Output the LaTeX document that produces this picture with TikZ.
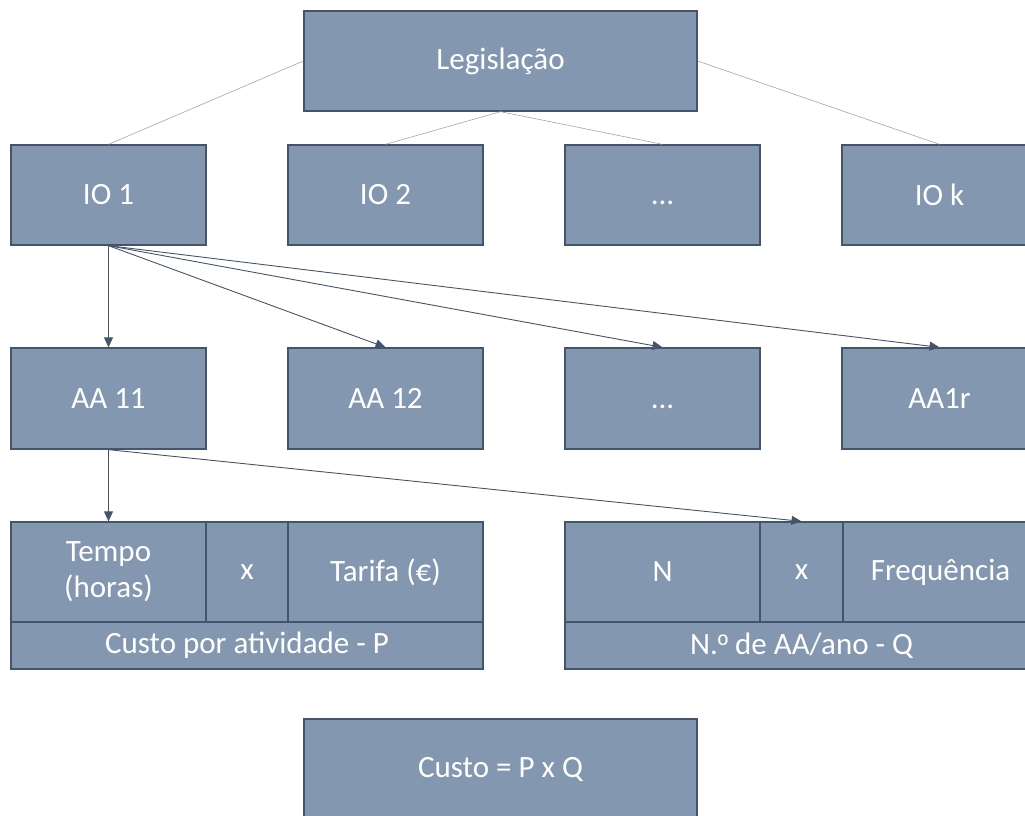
\documentclass[tikz,border=0pt]{standalone}
\usepackage{fontspec}
\setmainfont{Carlito}
\newfontfamily\ordfont{Liberation Sans}
\usetikzlibrary{arrows.meta}
\definecolor{boxfill}{HTML}{8497B0}
\definecolor{boxedge}{HTML}{44546A}
\definecolor{linkgray}{HTML}{A5A5A5}
\begin{document}
\begin{tikzpicture}[x=1pt,y=-1pt,
  cell/.style={draw=boxedge, fill=boxfill, line width=1.3pt, text=white,
    font=\fontsize{31}{36}\selectfont, inner sep=0pt, align=center},
  wide/.style={cell, minimum width=393, minimum height=100},
  unit/.style={cell, minimum width=195, minimum height=100},
  tree/.style={draw=linkgray, line width=0.6pt},
  link/.style={draw=boxedge, line width=0.9pt, -{Triangle[length=10pt,width=9pt]}}]
\useasboundingbox (0,0) rectangle (1025,816);
\begin{scope}
\clip (0,0) rectangle (1025,816);
% top level
\node[wide] (leg) at (500.5,61) {Legislação};
% information obligations
\node[unit] (io1) at (108.5,195) {IO 1};
\node[unit] (io2) at (385.5,195) {IO 2};
\node[unit] (iod) at (662.5,195) {\vphantom{IO}...};
\node[unit] (iok) at (939.5,195) {IO k};
% administrative activities
\node[unit, minimum height=101] (aa11) at (108.5,398.5) {AA 11};
\node[unit, minimum height=101] (aa12) at (385.5,398.5) {AA 12};
\node[unit, minimum height=101] (aad) at (662.5,398.5) {\vphantom{AA}...};
\node[unit, minimum height=101] (aar) at (939.5,398.5) {AA1r};
% price table
\node[unit] (tempo) at (108.5,572) {Tempo\\(horas)};
\node[cell, minimum width=82, minimum height=100] (px) at (247,572) {x};
\node[unit] (tarifa) at (385.5,572) {Tarifa (€)};
\node[cell, minimum width=472, minimum height=47] (pp) at (247,645.5) {Custo por atividade - P};
% quantity table
\node[unit] (qn) at (662.5,572) {N};
\node[cell, minimum width=83, minimum height=100] (qx) at (801.5,572) {x};
\node[unit] (freq) at (940.5,572) {Frequência};
\node[cell, minimum width=473, minimum height=47] (qq) at (801.5,645.5) {N.{\ordfont\fontsize{28}{34}\selectfont º} de AA/ano - Q};
% total
\node[wide] (total) at (500.5,769) {Custo = P x Q};
% tree links
\draw[tree] (leg.west) -- (io1.north);
\draw[tree] (leg.south) -- (io2.north);
\draw[tree] (leg.south) -- (iod.north);
\draw[tree] (leg.east) -- (iok.north);
% arrows
\draw[link] (io1.south) -- (aa11.north);
\draw[link] (io1.south) -- (aa12.north);
\draw[link] (io1.south) -- (aad.north);
\draw[link] (io1.south) -- (aar.north);
\draw[link] (aa11.south) -- (tempo.north);
\draw[link] (aa11.south) -- (qx.north);
\end{scope}
\end{tikzpicture}
\end{document}
